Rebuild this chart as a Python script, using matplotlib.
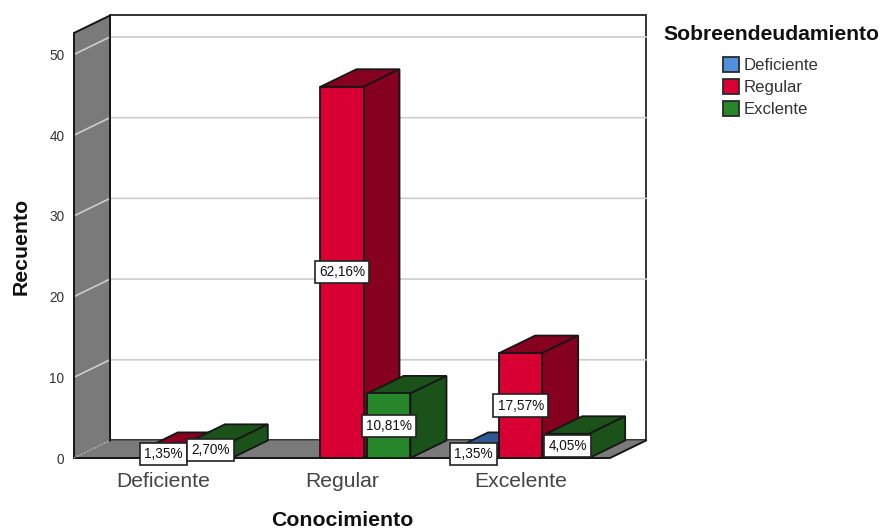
import matplotlib
matplotlib.use("Agg")
import matplotlib.pyplot as plt
from matplotlib.patches import Polygon, Patch

plt.rcParams['font.family'] = ['Liberation Sans', 'DejaVu Sans']

# Data
categories = ['Deficiente', 'Regular', 'Excelente']
series_names = ['Deficiente', 'Regular', 'Exclente']
deficiente = [0, 0, 1]
regular = [1, 46, 13]
exclente = [2, 8, 3]
y_ticks = [0, 10, 20, 30, 40, 50]
total = 74

front_colors = ['#5090dc', '#d80032', '#27862a']
dark_colors = ['#2d5a92', '#860020', '#1a5219']
edge = '#161616'
wall = '#7a7a7a'
grid = '#cdcdcd'

# depth of the fake 3D box, in data units
dx = 0.2015
dy = 2.17
bar_w = 0.2407
slot = 0.263
ymax = 52.66
xmin, xmax = -0.5, 2.5

fig = plt.figure(figsize=(8.81, 5.30), dpi=100)
ax = fig.add_axes([74 / 881, (530 - 458) / 530, 536 / 881, 425 / 530])
ax.set_xlim(xmin, xmax)
ax.set_ylim(0, ymax)
for s in ax.spines.values():
    s.set_visible(False)
ax.patch.set_visible(False)


def poly(pts, fc, z, lw=1.3, ec=edge):
    ax.add_patch(Polygon(pts, closed=True, facecolor=fc, edgecolor=ec, linewidth=lw,
                         zorder=z, clip_on=False, joinstyle='miter'))


def edge_line(xs, ys, z=4, lw=1.4, color=edge):
    ax.plot(xs, ys, color=color, lw=lw, zorder=z, clip_on=False,
            solid_joinstyle='miter', solid_capstyle='projecting')


# back wall, floor and left wall
poly([(xmin + dx, dy), (xmax + dx, dy), (xmax + dx, ymax + dy), (xmin + dx, ymax + dy)], 'white', 1, lw=1.4, ec='#333333')
poly([(xmin, 0), (xmax, 0), (xmax + dx, dy), (xmin + dx, dy)], wall, 2, ec='none')
poly([(xmin, 0), (xmin + dx, dy), (xmin + dx, ymax + dy), (xmin, ymax)], wall, 2, ec='none')

for v in y_ticks[1:]:
    ax.plot([xmin, xmin + dx, xmax + dx], [v, v + dy, v + dy], color=grid, lw=1.2, zorder=3,
            clip_on=False, solid_joinstyle='miter')

edge_line([xmin, xmin, xmin + dx, xmin + dx], [0, ymax, ymax + dy, dy])
edge_line([xmin, xmax, xmax + dx], [0, 0, dy])
ax.plot([xmin, xmin + dx], [0, dy], color='#b5b5b5', lw=1, ls=':', zorder=4, clip_on=False)

# bars, left to right so nearer sides overlap correctly
z = 5
labels = []
for c in range(len(categories)):
    for i, vals in enumerate([deficiente, regular, exclente]):
        v = vals[c]
        if v == 0:
            continue
        x0 = c + (i - 1) * slot - bar_w / 2
        x1 = x0 + bar_w
        poly([(x0, v), (x1, v), (x1 + dx, v + dy), (x0 + dx, v + dy)], dark_colors[i], z)
        poly([(x1, 0), (x1 + dx, dy), (x1 + dx, v + dy), (x1, v)], dark_colors[i], z)
        poly([(x0, 0), (x1, 0), (x1, v), (x0, v)], front_colors[i], z)
        z += 1
        labels.append(((x0 + x1) / 2, v))

for xc, v in labels:
    ax.text(xc, v / 2, f'{v / total * 100:.2f}%'.replace('.', ','), ha='center', va='center',
            fontsize=9.8, color='#111111', zorder=30, clip_on=False,
            bbox=dict(boxstyle='square,pad=0.3', facecolor='white', edgecolor='#222222', linewidth=1.2))

ax.set_xticks(range(len(categories)))
ax.set_xticklabels(categories, fontsize=15.2, color='#444444')
ax.set_yticks(y_ticks)
ax.set_yticklabels(y_ticks, fontsize=9.8, color='#333333')
ax.tick_params(axis='x', length=0, pad=10)
ax.tick_params(axis='y', length=0, pad=7)

fig.text(342 / 881, 1 - 521 / 530, 'Conocimiento', fontsize=15.3, fontweight='bold', ha='center', va='center', color='#111111')
fig.text(21.5 / 881, 1 - 246 / 530, 'Recuento', fontsize=15.3, fontweight='bold', rotation=90, ha='center', va='center', color='#111111')

handles = [Patch(facecolor=front_colors[i], edgecolor='#2a2a2a', linewidth=1.3) for i in range(3)]
leg = fig.legend(handles, series_names, title='Sobreendeudamiento', loc='upper center',
                 bbox_to_anchor=(771 / 881, 1 - 25 / 530), frameon=False, fontsize=12.1,
                 handlelength=0.95, handleheight=1.0, handletextpad=0.3, labelspacing=0.36,
                 labelcolor='#333333', borderpad=0, borderaxespad=0)
leg.get_title().set_fontsize(15.2)
leg.get_title().set_fontweight('bold')
leg.get_title().set_color('#111111')
leg._legend_box.sep = 9

fig.savefig('out.png', dpi=100)
